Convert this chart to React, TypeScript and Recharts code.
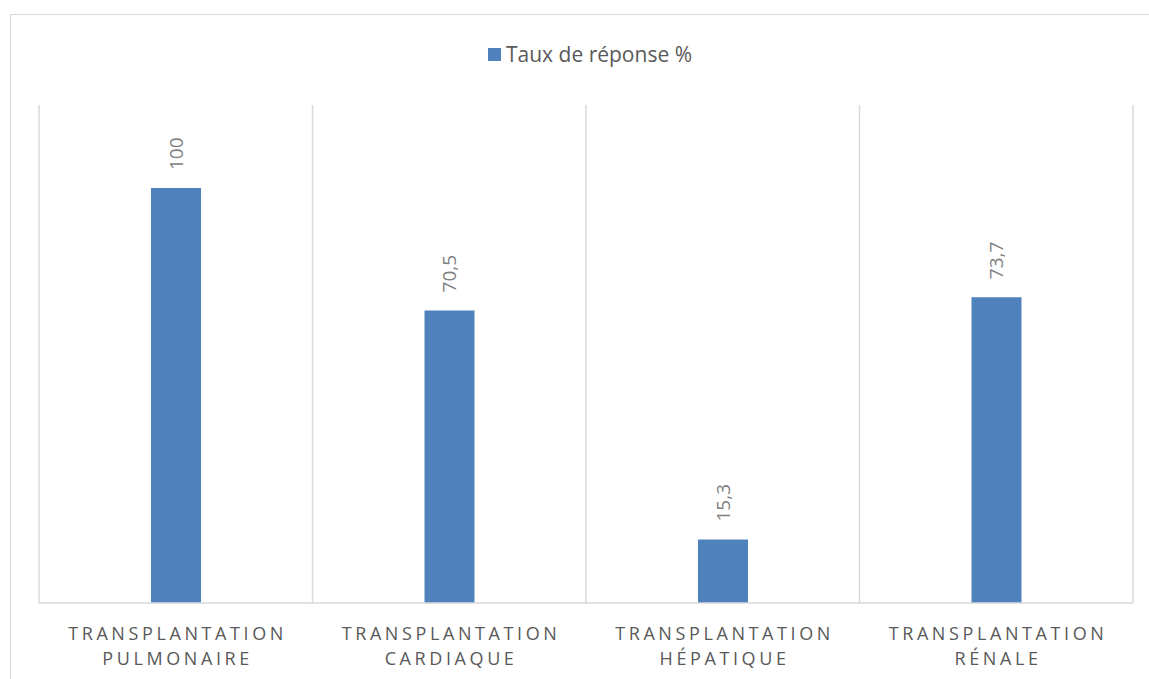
import React from "react";
import { BarChart, Bar, XAxis, YAxis, CartesianGrid, Legend, LabelList } from "recharts";

const categories = [
  "TRANSPLANTATION PULMONAIRE",
  "TRANSPLANTATION CARDIAQUE",
  "TRANSPLANTATION HÉPATIQUE",
  "TRANSPLANTATION RÉNALE",
];
const tauxReponse = [100, 70.5, 15.3, 73.7];
const seriesName = "Taux de réponse %";

const data = categories.map((name, i) => ({ name, taux: tauxReponse[i] }));

const FONT = "'Open Sans', 'Liberation Sans', sans-serif";
const BLUE = "#4f81bd";
const GRID = "#d9d9d9";

function CategoryTick(props: any) {
  const { x, y, payload } = props;
  const words = String(payload.value).split(" ");
  const spacing = 3.6;
  return (
    <g transform={`translate(${x + spacing / 2},${y})`}>
      {words.map((w, i) => (
        <text
          key={i}
          x={0}
          y={37 + i * 25}
          textAnchor="middle"
          fill="#595959"
          fontSize={18}
          fontFamily={FONT}
          style={{ letterSpacing: `${spacing}px` }}
        >
          {w}
        </text>
      ))}
    </g>
  );
}

function RotatedLabel(props: any) {
  const { x, y, width, value } = props;
  const cx = x + width / 2;
  const ty = y - 18;
  return (
    <text
      x={cx}
      y={ty}
      transform={`rotate(-90 ${cx} ${ty})`}
      textAnchor="start"
      dominantBaseline="central"
      fill="#7f7f7f"
      fontSize={19}
      fontFamily={FONT}
    >
      {String(value).replace(".", ",")}
    </text>
  );
}

function LegendContent() {
  return (
    <div style={{ display: "flex", justifyContent: "center", alignItems: "center", fontFamily: FONT, paddingLeft: 31 }}>
      <span style={{ width: 13, height: 13, background: BLUE, display: "inline-block", marginRight: 5 }} />
      <span style={{ fontSize: 21, color: "#595959" }}>{seriesName}</span>
    </div>
  );
}

export default function App() {
  return (
    <div style={{ position: "relative", width: 1149, height: 679, overflow: "hidden", background: "#fff" }}>
      <style>{"body{margin:0}"}</style>
      <div
        style={{
          position: "absolute",
          left: 10,
          top: 14,
          width: 1160,
          height: 700,
          border: `1.5px solid ${GRID}`,
          boxSizing: "border-box",
        }}
      />
      <div style={{ position: "absolute", left: 0, top: 0 }}>
        <BarChart width={1149} height={679} data={data} margin={{ top: 105, right: 16, bottom: 46, left: 39 }}>
          <CartesianGrid
            horizontal={false}
            stroke={GRID}
            strokeWidth={1.5}
            verticalCoordinatesGenerator={({ offset }: any) =>
              [0, 1, 2, 3, 4].map((i) => offset.left + (i * offset.width) / 4)
            }
          />
          <XAxis
            dataKey="name"
            height={30}
            tickLine={false}
            tickSize={0}
            tickMargin={0}
            axisLine={{ stroke: GRID, strokeWidth: 1.5 }}
            tick={<CategoryTick />}
            interval={0}
          />
          <YAxis hide domain={[0, 120]} />
          <Legend
            verticalAlign="middle"
            align="center"
            content={<LegendContent />}
            wrapperStyle={{ top: 40, left: 0, width: 1149 }}
          />
          <Bar dataKey="taux" name={seriesName} fill={BLUE} barSize={50} isAnimationActive={false}>
            <LabelList dataKey="taux" content={<RotatedLabel />} />
          </Bar>
        </BarChart>
      </div>
    </div>
  );
}
